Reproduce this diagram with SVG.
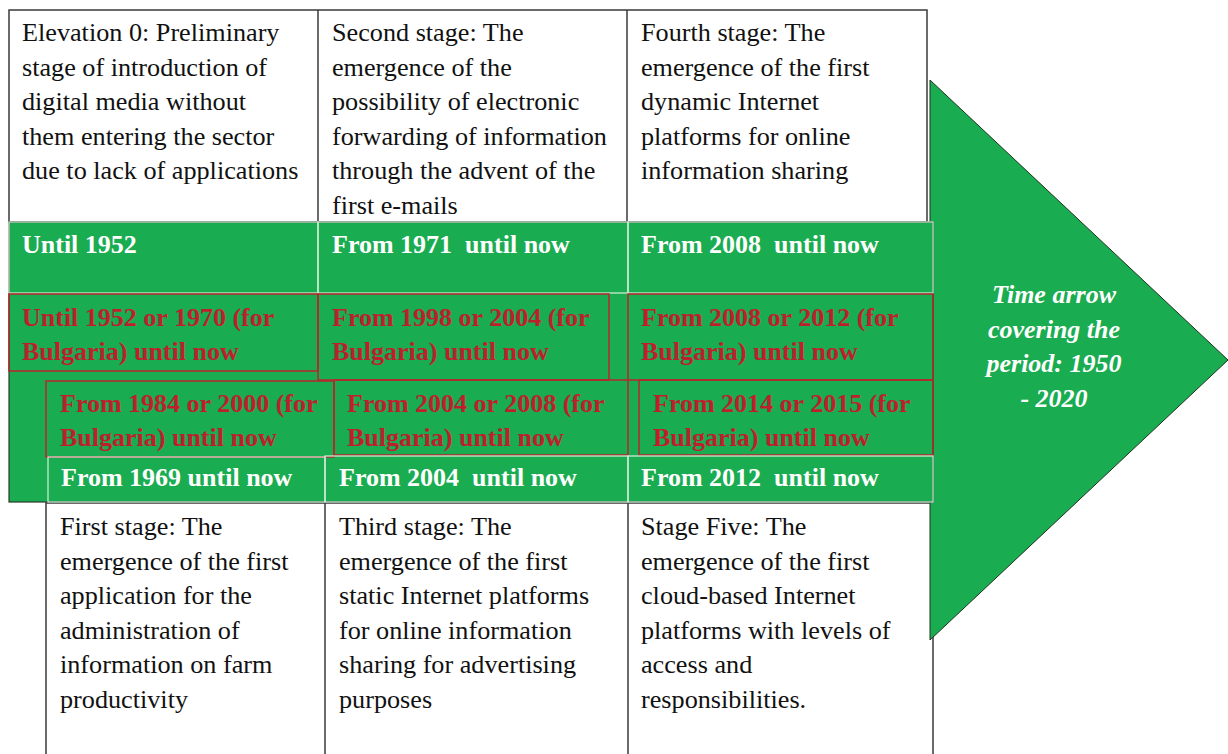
<svg xmlns="http://www.w3.org/2000/svg" width="1228" height="754" viewBox="0 0 1228 754">
  <defs>
    <style>
      .box { fill: #ffffff; stroke: #3a3a3a; stroke-width: 1.5; }
      .band { fill: #1aac50; stroke: #2a3a2a; stroke-width: 1.2; }
      .cellw { fill: none; stroke: #d8eedd; stroke-width: 1.2; }
      .cellr { fill: none; stroke: #b8262c; stroke-width: 1.5; }
      .arrow { fill: #1aac50; stroke: #1f3320; stroke-width: 1; }
      .desc { font-family: "Liberation Serif", "Times New Roman", serif; font-size: 26.2px; fill: #111111; }
      .date { font-family: "Liberation Serif", "Times New Roman", serif; font-size: 26px; font-weight: bold; fill: #ffffff; }
      .bg { font-family: "Liberation Serif", "Times New Roman", serif; font-size: 26px; font-weight: bold; fill: #be1e2d; }
      .note { font-family: "Liberation Serif", "Times New Roman", serif; font-size: 26px; font-weight: bold; font-style: italic; fill: #ffffff; text-anchor: middle; }
    </style>
  </defs>

  <!-- upper stage descriptions -->
  <g id="upper-stages">
    <rect class="box" x="9" y="10" width="918" height="212"/>
    <line class="box" x1="318" y1="10" x2="318" y2="222"/>
    <line class="box" x1="627" y1="10" x2="627" y2="222"/>
  </g>
  <g id="stage-0">
    <text class="desc" x="22" y="41">Elevation 0: Preliminary</text>
    <text class="desc" x="22" y="75.5">stage of introduction of</text>
    <text class="desc" x="22" y="110">digital media without</text>
    <text class="desc" x="22" y="144.5">them entering the sector</text>
    <text class="desc" x="22" y="179">due to lack of applications</text>
  </g>
  <g id="stage-2">
    <text class="desc" x="332" y="41">Second stage: The</text>
    <text class="desc" x="332" y="75.5">emergence of the</text>
    <text class="desc" x="332" y="110">possibility of electronic</text>
    <text class="desc" x="332" y="144.5">forwarding of information</text>
    <text class="desc" x="332" y="179">through the advent of the</text>
    <text class="desc" x="332" y="213.5">first e-mails</text>
  </g>
  <g id="stage-4">
    <text class="desc" x="641" y="41">Fourth stage: The</text>
    <text class="desc" x="641" y="75.5">emergence of the first</text>
    <text class="desc" x="641" y="110">dynamic Internet</text>
    <text class="desc" x="641" y="144.5">platforms for online</text>
    <text class="desc" x="641" y="179">information sharing</text>
  </g>

  <!-- lower stage descriptions -->
  <g id="lower-stages">
    <rect class="box" x="46" y="503" width="887" height="262"/>
    <line class="box" x1="325" y1="503" x2="325" y2="760"/>
    <line class="box" x1="628" y1="503" x2="628" y2="760"/>
  </g>
  <g id="stage-1">
    <text class="desc" x="60" y="535">First stage: The</text>
    <text class="desc" x="60" y="569.5">emergence of the first</text>
    <text class="desc" x="60" y="604">application for the</text>
    <text class="desc" x="60" y="638.5">administration of</text>
    <text class="desc" x="60" y="673">information on farm</text>
    <text class="desc" x="60" y="707.5">productivity</text>
  </g>
  <g id="stage-3">
    <text class="desc" x="339" y="535">Third stage: The</text>
    <text class="desc" x="339" y="569.5">emergence of the first</text>
    <text class="desc" x="339" y="604">static Internet platforms</text>
    <text class="desc" x="339" y="638.5">for online information</text>
    <text class="desc" x="339" y="673">sharing for advertising</text>
    <text class="desc" x="339" y="707.5">purposes</text>
  </g>
  <g id="stage-5">
    <text class="desc" x="641" y="535">Stage Five: The</text>
    <text class="desc" x="641" y="569.5">emergence of the first</text>
    <text class="desc" x="641" y="604">cloud-based Internet</text>
    <text class="desc" x="641" y="638.5">platforms with levels of</text>
    <text class="desc" x="641" y="673">access and</text>
    <text class="desc" x="641" y="707.5">responsibilities.</text>
  </g>

  <!-- time arrow -->
  <g id="time-arrow">
    <polygon class="arrow" points="930,80 1228,360 930,640"/>
    <text class="note" x="1054" y="303">Time arrow</text>
    <text class="note" x="1054" y="337.5">covering the</text>
    <text class="note" x="1054" y="372">period: 1950</text>
    <text class="note" x="1054" y="406.5">- 2020</text>
  </g>

  <!-- green band of dates -->
  <g id="date-band">
    <rect class="band" x="9" y="222" width="924" height="280"/>
  </g>

  <g id="dates-row-1">
    <rect class="cellw" x="9" y="222" width="309" height="71"/>
    <rect class="cellw" x="318" y="222" width="310" height="71"/>
    <rect class="cellw" x="628" y="222" width="305" height="71"/>
    <text class="date" x="22" y="253">Until 1952</text>
    <text class="date" x="332" y="253" xml:space="preserve">From 1971  until now</text>
    <text class="date" x="641" y="253" xml:space="preserve">From 2008  until now</text>
  </g>

  <g id="dates-row-2">
    <rect class="cellr" x="9" y="294" width="309" height="77"/>
    <rect class="cellr" x="318" y="294" width="291" height="86"/>
    <rect class="cellr" x="628" y="294" width="305" height="86"/>
    <text class="bg" x="22" y="326">Until 1952 or 1970 (for</text>
    <text class="bg" x="22" y="360">Bulgaria) until now</text>
    <text class="bg" x="332" y="326">From 1998 or 2004 (for</text>
    <text class="bg" x="332" y="360">Bulgaria) until now</text>
    <text class="bg" x="641" y="326">From 2008 or 2012 (for</text>
    <text class="bg" x="641" y="360">Bulgaria) until now</text>
  </g>

  <g id="dates-row-3">
    <rect class="cellr" x="46" y="381" width="288" height="76"/>
    <rect class="cellr" x="334" y="380" width="294" height="75"/>
    <rect class="cellr" x="639" y="380" width="294" height="75"/>
    <text class="bg" x="60" y="412">From 1984 or 2000 (for</text>
    <text class="bg" x="60" y="446">Bulgaria) until now</text>
    <text class="bg" x="347" y="412">From 2004 or 2008 (for</text>
    <text class="bg" x="347" y="446">Bulgaria) until now</text>
    <text class="bg" x="653" y="412">From 2014 or 2015 (for</text>
    <text class="bg" x="653" y="446">Bulgaria) until now</text>
  </g>

  <g id="dates-row-4">
    <rect class="cellw" x="48" y="457" width="277" height="45"/>
    <rect class="cellw" x="325" y="456" width="303" height="46"/>
    <rect class="cellw" x="628" y="456" width="305" height="46"/>
    <text class="date" x="61" y="486">From 1969 until now</text>
    <text class="date" x="339" y="486" xml:space="preserve">From 2004  until now</text>
    <text class="date" x="641" y="486" xml:space="preserve">From 2012  until now</text>
  </g>
</svg>
